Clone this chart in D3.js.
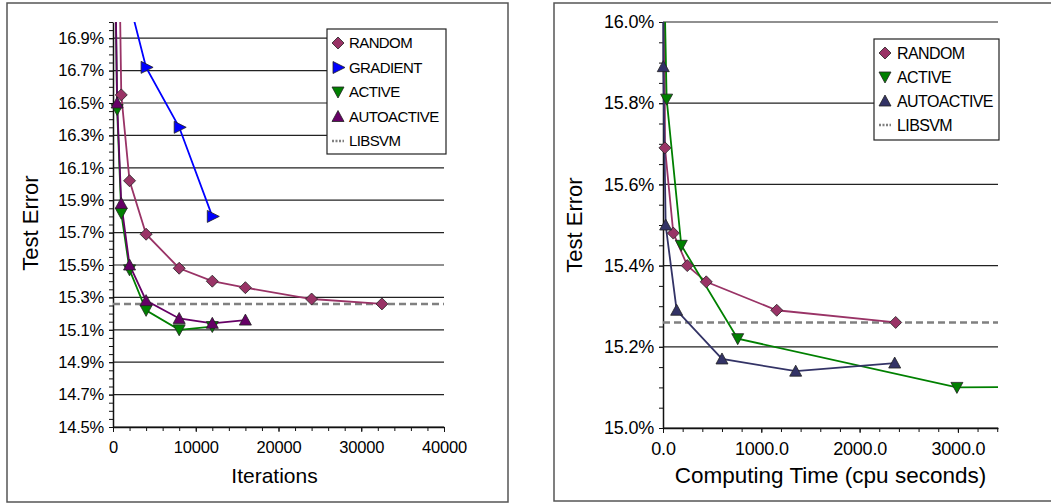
<!DOCTYPE html>
<html>
<head>
    <meta charset="UTF-8">
    <title>Test Error vs Iterations and Computing Time</title>
    <style>
        body {
            margin: 0;
            background-color: white;
            font-family: "Liberation Sans", Arial, sans-serif;
        }
        svg text {
            fill: black;
        }
    </style>
</head>
<body>
    <svg id="chart" width="1051" height="504"></svg>

    <script src="https://d3js.org/d3.v7.min.js"></script>
    <script>
        // ---- data: left panel (x = iterations, y = test error %) ----
        var iterRandomX = [500, 1000, 2000, 4000, 8000, 12000, 16000, 24000, 32500];
        var iterRandomY = [18.3, 16.55, 16.02, 15.69, 15.48, 15.40, 15.36, 15.29, 15.26];
        var iterGradientX = [2000, 4000, 8000, 12000];
        var iterGradientY = [17.12, 16.72, 16.35, 15.80];
        var iterActiveX = [200, 500, 1000, 2000, 4000, 8000, 12000];
        var iterActiveY = [17.6, 16.46, 15.82, 15.47, 15.22, 15.10, 15.12];
        var iterAutoX = [200, 500, 1000, 2000, 4000, 8000, 12000, 16000];
        var iterAutoY = [17.6, 16.50, 15.88, 15.50, 15.28, 15.17, 15.14, 15.16];
        var iterLibsvm = 15.26;
        var iterYTicks = [14.5, 14.7, 14.9, 15.1, 15.3, 15.5, 15.7, 15.9, 16.1, 16.3, 16.5, 16.7, 16.9];
        var iterXTicks = [0, 10000, 20000, 30000, 40000];

        // ---- data: right panel (x = cpu seconds, y = test error %) ----
        var timeRandomX = [5, 20, 105, 247, 440, 1157, 2367];
        var timeRandomY = [17.0, 15.69, 15.48, 15.40, 15.36, 15.29, 15.26];
        var timeActiveX = [5, 37, 186, 760, 2990, 6000];
        var timeActiveY = [16.2, 15.81, 15.45, 15.22, 15.10, 15.105];
        var timeAutoX = [1, 3, 27, 139, 600, 1350, 2357];
        var timeAutoY = [16.5, 15.89, 15.50, 15.29, 15.17, 15.14, 15.16];
        var timeLibsvm = 15.26;
        var timeYTicks = [15.0, 15.2, 15.4, 15.6, 15.8, 16.0];
        var timeXTicks = [0, 1000, 2000, 3000];

        var svg = d3.select("#chart");

        // outer frames
        svg.append("rect").attr("x", 7).attr("y", 3).attr("width", 501).attr("height", 499)
            .attr("fill", "none").attr("stroke", "#555").attr("stroke-width", 1.5);
        svg.append("rect").attr("x", 554).attr("y", 3).attr("width", 510).attr("height", 498)
            .attr("fill", "none").attr("stroke", "#555").attr("stroke-width", 1.5);

        function zip(xs, ys) {
            return xs.map(function(x, i) { return [x, ys[i]]; });
        }

        // marker shapes centred on 0,0
        function markerPath(kind) {
            if (kind === "diamond") return "M0,-6L6,0L0,6L-6,0Z";
            if (kind === "right") return "M-5,-6L7,0L-5,6Z";
            if (kind === "down") return "M-6,-5L6,-5L0,6Z";
            return "M-6,5L6,5L0,-6Z"; // up
        }

        function drawPanel(cfg) {
            var g = svg.append("g").attr("transform", "translate(" + cfg.left + "," + cfg.top + ")");
            var w = cfg.width, h = cfg.height;

            var x = d3.scaleLinear().domain(cfg.xDomain).range([0, w]);
            var y = d3.scaleLinear().domain(cfg.yDomain).range([h, 0]);

            // grid lines at major y ticks
            g.append("g").selectAll("line")
                .data(cfg.yTicks)
                .enter().append("line")
                .attr("x1", 0).attr("x2", w)
                .attr("y1", function(d) { return y(d); })
                .attr("y2", function(d) { return y(d); })
                .attr("stroke", "#222").attr("stroke-width", 1.2);

            // minor ticks
            g.append("g")
                .call(d3.axisLeft(y).tickValues(cfg.yMinor).tickSize(4).tickFormat(""))
                .call(function(s) { s.select(".domain").remove(); });
            g.append("g")
                .attr("transform", "translate(0," + h + ")")
                .call(d3.axisBottom(x).tickValues(cfg.xMinor).tickSize(4).tickFormat(""))
                .call(function(s) { s.select(".domain").remove(); });

            // major axes
            var yAxis = g.append("g")
                .call(d3.axisLeft(y).tickValues(cfg.yTicks).tickSize(4).tickPadding(5)
                    .tickSizeOuter(0).tickFormat(cfg.yFormat));
            var xAxis = g.append("g")
                .attr("transform", "translate(0," + h + ")")
                .call(d3.axisBottom(x).tickValues(cfg.xTicks).tickSize(5).tickPadding(9)
                    .tickSizeOuter(0).tickFormat(cfg.xFormat));
            [yAxis, xAxis].forEach(function(a) {
                a.selectAll("text")
                    .style("font-family", '"Liberation Sans", Arial, sans-serif')
                    .style("font-size", cfg.tickFont + "px")
                    .style("letter-spacing", "-0.2px");
                a.selectAll("line").attr("stroke", "#111");
                a.select(".domain").attr("stroke", "#111").attr("stroke-width", 1.5);
            });
            g.selectAll(".tick line").attr("stroke", "#111");

            // baseline (dashed)
            g.append("line")
                .attr("x1", 0).attr("x2", w)
                .attr("y1", y(cfg.libsvm)).attr("y2", y(cfg.libsvm))
                .attr("stroke", "#808080").attr("stroke-width", 2.5)
                .attr("stroke-dasharray", "7,4");

            // clip so lines stop at the plot edges
            var clipId = "clip-" + cfg.id;
            g.append("clipPath").attr("id", clipId)
                .append("rect").attr("x", -9).attr("y", 0).attr("width", w + 9).attr("height", h + 9);

            var series = g.append("g").attr("clip-path", "url(#" + clipId + ")");
            var line = d3.line()
                .x(function(d) { return x(d[0]); })
                .y(function(d) { return y(d[1]); });

            cfg.series.forEach(function(s) {
                var pts = zip(s.x, s.y);
                series.append("path")
                    .datum(pts)
                    .attr("d", line)
                    .attr("fill", "none")
                    .attr("stroke", s.color)
                    .attr("stroke-width", 1.8);
            });
            cfg.series.forEach(function(s) {
                var pts = zip(s.x, s.y);
                series.selectAll(null)
                    .data(pts)
                    .enter().append("path")
                    .attr("transform", function(d) { return "translate(" + x(d[0]) + "," + y(d[1]) + ")"; })
                    .attr("d", markerPath(s.marker))
                    .attr("fill", s.color)
                    .attr("stroke", "#222")
                    .attr("stroke-width", 0.8);
            });

            // axis titles
            svg.append("text")
                .attr("transform", "translate(" + cfg.yTitleX + "," + cfg.yTitleY + ") rotate(-90)")
                .attr("text-anchor", "middle")
                .style("font-size", "22px")
                .text("Test Error");
            svg.append("text")
                .attr("x", cfg.left + w / 2 + cfg.xTitleShift)
                .attr("y", 483)
                .attr("text-anchor", "middle")
                .style("font-size", cfg.xTitleFont + "px")
                .text(cfg.xTitle);

            // legend
            var lg = svg.append("g").attr("transform", "translate(" + cfg.legend.x + "," + cfg.legend.y + ")");
            var entries = cfg.series.map(function(s) { return s; });
            entries.push({ name: "LIBSVM", marker: "dash" });
            lg.append("rect")
                .attr("width", cfg.legend.w)
                .attr("height", cfg.legend.h)
                .attr("fill", "white")
                .attr("stroke", "#222")
                .attr("stroke-width", 1.2);
            entries.forEach(function(s, i) {
                var cy = cfg.legend.first + i * cfg.legend.step;
                if (s.marker === "dash") {
                    lg.append("line")
                        .attr("x1", 5).attr("x2", 17)
                        .attr("y1", cy).attr("y2", cy)
                        .attr("stroke", "#808080").attr("stroke-width", 2.5)
                        .attr("stroke-dasharray", "2,1.5");
                } else {
                    lg.append("path")
                        .attr("transform", "translate(11," + cy + ")")
                        .attr("d", markerPath(s.marker))
                        .attr("fill", s.color)
                        .attr("stroke", "#222")
                        .attr("stroke-width", 0.8);
                }
                lg.append("text")
                    .attr("x", cfg.legend.textX)
                    .attr("y", cy)
                    .attr("dy", "0.36em")
                    .style("font-size", cfg.legend.font + "px")
                    .style("letter-spacing", "-0.6px")
                    .text(s.name);
            });
        }

        function range(a, b, step) {
            return d3.range(Math.round((b - a) / step) + 1).map(function(i) { return +(a + i * step).toFixed(4); });
        }

        drawPanel({
            id: "iter",
            left: 113, top: 22, width: 331, height: 405,
            xDomain: [0, 40000], yDomain: [14.5, 17.0],
            xTicks: iterXTicks, yTicks: iterYTicks,
            xMinor: range(0, 40000, 2000), yMinor: range(14.5, 17.0, 0.05),
            xFormat: d3.format("d"),
            yFormat: function(d) { return d.toFixed(1) + "%"; },
            tickFont: 16.5,
            libsvm: iterLibsvm,
            yTitleX: 38, yTitleY: 223,
            xTitle: "Iterations", xTitleShift: -4, xTitleFont: 21,
            legend: { x: 327, y: 29, w: 119, h: 125, first: 14, step: 24.5, textX: 22, font: 15 },
            series: [
                { name: "RANDOM", x: iterRandomX, y: iterRandomY, color: "#993366", marker: "diamond" },
                { name: "GRADIENT", x: iterGradientX, y: iterGradientY, color: "#0000ff", marker: "right" },
                { name: "ACTIVE", x: iterActiveX, y: iterActiveY, color: "#008000", marker: "down" },
                { name: "AUTOACTIVE", x: iterAutoX, y: iterAutoY, color: "#660066", marker: "up" }
            ]
        });

        drawPanel({
            id: "time",
            left: 663, top: 22, width: 335, height: 406,
            xDomain: [0, 3408], yDomain: [15.0, 16.0],
            xTicks: timeXTicks, yTicks: timeYTicks,
            xMinor: range(0, 3400, 200), yMinor: range(15.0, 16.0, 0.05),
            xFormat: d3.format(".1f"),
            yFormat: function(d) { return d.toFixed(1) + "%"; },
            tickFont: 18,
            libsvm: timeLibsvm,
            yTitleX: 582, yTitleY: 225,
            xTitle: "Computing Time (cpu seconds)", xTitleShift: 0, xTitleFont: 22.5,
            legend: { x: 874, y: 39, w: 125, h: 101, first: 14, step: 24, textX: 23, font: 16 },
            series: [
                { name: "RANDOM", x: timeRandomX, y: timeRandomY, color: "#993366", marker: "diamond" },
                { name: "ACTIVE", x: timeActiveX, y: timeActiveY, color: "#008000", marker: "down" },
                { name: "AUTOACTIVE", x: timeAutoX, y: timeAutoY, color: "#333366", marker: "up" }
            ]
        });
    </script>
</body>
</html>
